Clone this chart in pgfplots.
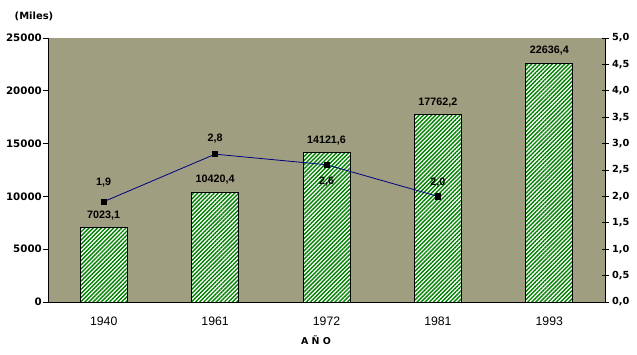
\documentclass[border=0pt]{standalone}
\usepackage{fontspec}
\setmainfont{Liberation Sans}
\newfontfamily\tickfont{DejaVu Sans}
\usepackage{pgfplots}
\pgfplotsset{compat=1.18}
\usetikzlibrary{patterns.meta}
\definecolor{bg}{RGB}{160,158,128}
\definecolor{hgreen}{RGB}{0,128,0}
\definecolor{navyline}{RGB}{0,0,128}
\begin{document}
\begin{tikzpicture}[x=1bp,y=1bp]
\path[use as bounding box] (0,0) rectangle (637,354);
\begin{axis}[
  at={(48bp,52bp)}, anchor=south west,
  scale only axis, width=557bp, height=264bp,
  xmin=-0.5, xmax=4.5, ymin=0, ymax=25000,
  axis x line*=bottom, axis y line*=left,
  axis line style={-, black, line width=0.8bp},
  axis background/.style={fill=bg},
  xtick={0,1,2,3,4},
  xticklabels={1940,1961,1972,1981,1993},
  xtick style={draw=none},
  extra x ticks={0.5,1.5,2.5,3.5},
  extra x tick labels={},
  extra x tick style={tick style={draw=black, line width=0.8bp}, major tick length=5bp},
  tick align=outside,
  ytick={0,5000,10000,15000,20000,25000},
  scaled y ticks=false,
  ytick style={black, line width=0.8bp},
  major tick length=5bp,
  yticklabel style={font=\tickfont\bfseries\fontsize{10.3}{12}\selectfont, inner xsep=1bp,
    /pgf/number format/.cd, 1000 sep={}, assume math mode=true},
  xticklabel style={font=\fontsize{12.3}{14}\selectfont, yshift=-6bp},
  clip=false,
]
\addplot[ybar, bar width=47bp, draw=black, line width=0.8bp, fill=white,
  postaction={pattern={Lines[angle=45,distance=2.9bp,line width=1.4bp]}, pattern color=hgreen},
  nodes near coords, point meta=explicit symbolic,
  nodes near coords style={font=\bfseries\fontsize{10.8}{12}\selectfont, text=black, anchor=south, yshift=4bp}]
 coordinates {(0,7023.1) [7023,1] (1,10420.4) [10420,4] (2,14121.6) [14121,6] (3,17762.2) [17762,2] (4,22636.4) [22636,4]};
\end{axis}
\begin{axis}[
  at={(48bp,52bp)}, anchor=south west,
  scale only axis, width=557bp, height=264bp,
  xmin=-0.5, xmax=4.5, ymin=0, ymax=5,
  axis x line=none, axis y line*=right,
  axis line style={-, black, line width=0.8bp},
  ytick={0,0.5,1,1.5,2,2.5,3,3.5,4,4.5,5},
  ytick style={black, line width=0.8bp},
  tick align=center, major tick length=7bp,
  yticklabel style={font=\tickfont\bfseries\fontsize{9.8}{12}\selectfont,
    /pgf/number format/.cd, use comma, fixed, fixed zerofill, precision=1, assume math mode=true},
  clip=false,
]
\addplot[navyline, line width=0.8bp, mark=square*, mark size=2.6bp, mark options={black, fill=black},
  nodes near coords, point meta=explicit symbolic,
  visualization depends on={value \thisrow{dy} \as \labdy},
  nodes near coords style={font=\bfseries\fontsize{10.8}{12}\selectfont, text=black, anchor=center, yshift=\labdy bp}]
 table[x=x, y=y, meta=lab] {
x y lab dy
0 1.9 1,9 19
1 2.8 2,8 16
2 2.6 2,6 -17
3 2.0 2,0 14
};
\end{axis}
\node[font=\tickfont\bfseries\fontsize{10}{12}\selectfont] at (34,338) {(Miles)};
\node[font=\tickfont\bfseries\fontsize{9.5}{12}\selectfont] at (316,14) {A Ñ O};
\end{tikzpicture}
\end{document}
